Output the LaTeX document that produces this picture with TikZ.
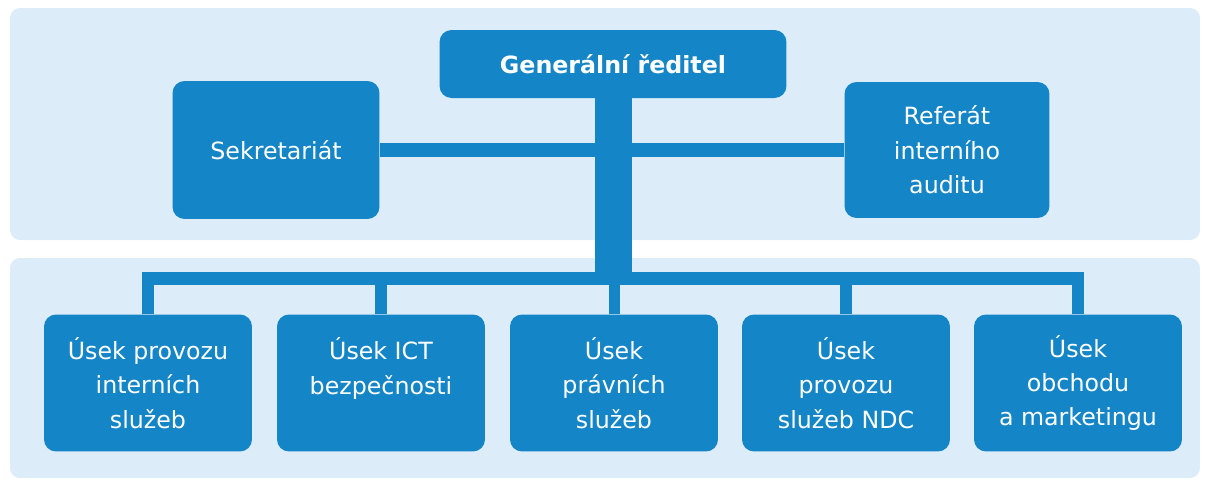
\documentclass[tikz,border=0pt]{standalone}
\usepackage{fontspec}
\setmainfont{DejaVu Sans}
\usepackage{tikz}
\usetikzlibrary{calc,positioning}
\definecolor{boxblue}{RGB}{20,133,198}
\definecolor{panelblue}{RGB}{221,236,249}

\begin{document}
\begin{tikzpicture}
        \begin{scope}[x=0.02cm, y=-0.02cm]

          \tikzstyle{bnode} = [fill=boxblue, rounded corners = 0.24cm, text=white, align=center, inner sep = 0pt, font=\fontsize{13.5}{19.6}\selectfont]
          \tikzstyle{unode} = [bnode, minimum width = 4.16cm, minimum height = 2.74cm]
          \tikzstyle{conn} = [draw=boxblue, line width = 0.25cm, line join = miter]

          \useasboundingbox (0,0) rectangle (1208,485);
          \fill[panelblue, rounded corners = 0.2cm] (10,8) rectangle (1200,240);
          \fill[panelblue, rounded corners = 0.2cm] (10,258) rectangle (1200,478);

          \node[bnode, minimum width = 6.94cm, minimum height = 1.36cm, font=\bfseries\fontsize{13.5}{19.6}\selectfont] (gen) at (613,64) {Generální ředitel};
          \node[bnode, minimum width = 4.14cm, minimum height = 2.76cm] (sek) at (276,150) {Sekretariát};
          \node[bnode, minimum width = 4.1cm, minimum height = 2.72cm] (ref) at (947,150) {Referát\\interního\\auditu};

          \node[unode] (u1) at (148,383) {Úsek provozu\\interních\\služeb};
          \node[unode] (u2) at (381,383) {Úsek ICT\\bezpečnosti\\\mbox{}};
          \node[unode] (u3) at (614,383) {Úsek\\právních\\služeb};
          \node[unode] (u4) at (846,383) {Úsek\\provozu\\služeb NDC};
          \node[unode] (u5) at (1078,383) {Úsek\\obchodu\\a marketingu};

          \coordinate (bar) at (614,278.5);

          \draw[conn, line width = 0.28cm] (sek) -- (ref);
          \draw[conn, line width = 0.74cm] (gen.south) -- (gen.south |- bar);

          \draw[conn] (u1.north) |- (bar) -| (u5.north);
          \draw[conn] (u2.north) -- (u2.north |- bar);
          \draw[conn, line width = 0.22cm] (u3.north) -- (u3.north |- bar);
          \draw[conn] (u4.north) -- (u4.north |- bar);

        \end{scope}
      \end{tikzpicture}
\end{document}
